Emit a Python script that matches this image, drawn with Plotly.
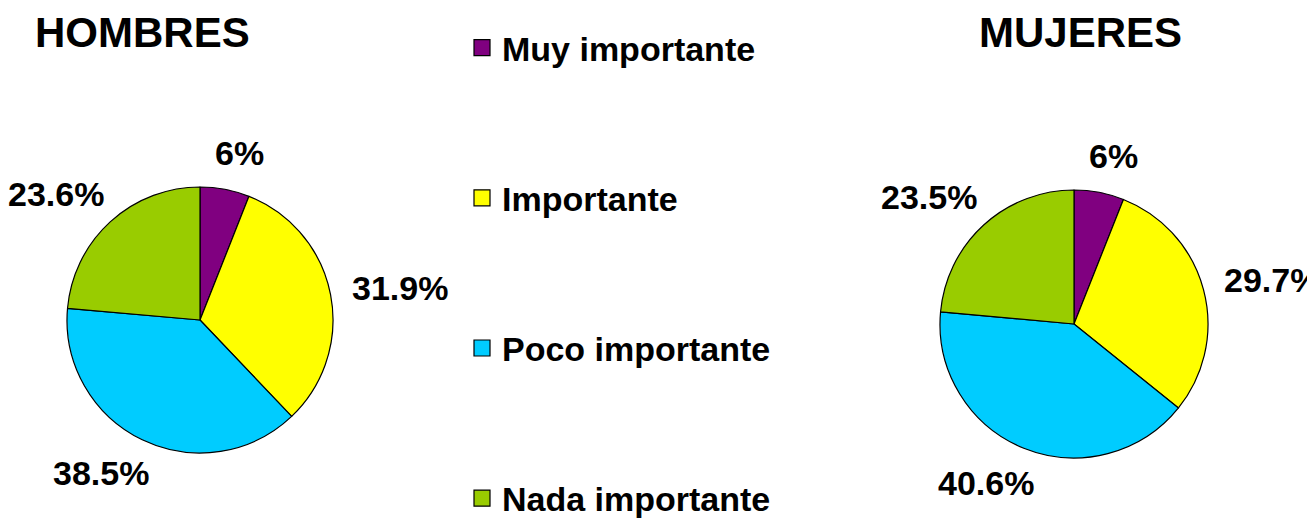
import math
import plotly.graph_objects as go

# data
categories = ["Muy importante", "Importante", "Poco importante", "Nada importante"]
hombres = [6.0, 31.9, 38.5, 23.6]
mujeres = [6.0, 29.7, 40.6, 23.5]
colors = ["#800080", "#FFFF00", "#00CCFF", "#99CC00"]

W, H = 1315, 519
OFF = 8  # page body margin shifts the figure by 8px
FONT = "Liberation Sans, Arial, sans-serif"
LABEL_SIZE = 34
# rough bold glyph widths (em) for placing the labels
GLYPH = {".": 0.278, "%": 0.889}


def px(x, y):
    """screen pixel position -> paper coords (margins are zero)"""
    return (x - OFF) / W, 1 - (y - OFF) / H


def text_width(txt, size):
    return sum(GLYPH.get(ch, 0.556) for ch in txt) * size


def pie_labels(values, cx, cy, r, gap=22):
    """Excel-like outside labels, the box pushed out along each slice's mid angle."""
    total = sum(values)
    notes = []
    acc = 0.0
    for v in values:
        mid = (acc + v / 2) / total * 2 * math.pi
        acc += v
        s, c = math.sin(mid), math.cos(mid)
        txt = f"{v:g}%"
        w, h = text_width(txt, LABEL_SIZE), LABEL_SIZE * 0.9
        bx = cx + (r + gap) * s + math.copysign(math.sqrt(abs(s)), s) * w / 2
        by = cy - (r + gap) * c - c * h / 2
        x, y = px(bx, by)
        notes.append(dict(
            x=x, y=y, xref="paper", yref="paper", xanchor="center", yanchor="middle",
            text=txt, showarrow=False,
            font=dict(family=FONT, size=LABEL_SIZE, color="black", weight="bold"),
        ))
    return notes


def pie(values, cx, cy, r):
    x0, y1 = px(cx - r, cy - r)
    x1, y0 = px(cx + r, cy + r)
    return go.Pie(
        labels=categories, values=values, sort=False, direction="clockwise",
        rotation=0, textinfo="none", hoverinfo="label+percent",
        marker=dict(colors=colors, line=dict(color="black", width=1.2)),
        domain=dict(x=[x0, x1], y=[y0, y1]), showlegend=False,
    )


fig = go.Figure()
fig.add_trace(pie(hombres, 200, 320, 133))
fig.add_trace(pie(mujeres, 1074, 324, 134))

# legend entries as empty square-marker traces so the spacing can be set
for i, (name, col) in enumerate(zip(categories, colors)):
    fig.add_trace(go.Scatter(
        x=[None], y=[None], mode="markers", name=name, legendgroup=f"g{i}",
        marker=dict(symbol="square", size=22, color=col, line=dict(color="black", width=1.2)),
    ))

annotations = pie_labels(hombres, 200, 320, 133) + pie_labels(mujeres, 1074, 324, 134)
for txt, x in [("HOMBRES", 142), ("MUJERES", 1080)]:
    ax, ay = px(x, 33)
    annotations.append(dict(
        x=ax, y=ay, xref="paper", yref="paper", text=txt, showarrow=False,
        xanchor="center", yanchor="middle",
        font=dict(family=FONT, size=42, color="black", weight="bold"),
    ))

lx, ly = px(462, 23)
fig.update_layout(
    width=W, height=H,
    margin=dict(l=0, r=0, t=0, b=0),
    paper_bgcolor="white", plot_bgcolor="white",
    xaxis=dict(visible=False), yaxis=dict(visible=False),
    showlegend=True,
    legend=dict(
        x=lx, y=ly, xanchor="left", yanchor="top",
        font=dict(family=FONT, size=34, color="black", weight="bold"),
        tracegroupgap=103, itemsizing="trace", bgcolor="rgba(0,0,0,0)",
    ),
    annotations=annotations,
)

fig.write_html("out.html")
